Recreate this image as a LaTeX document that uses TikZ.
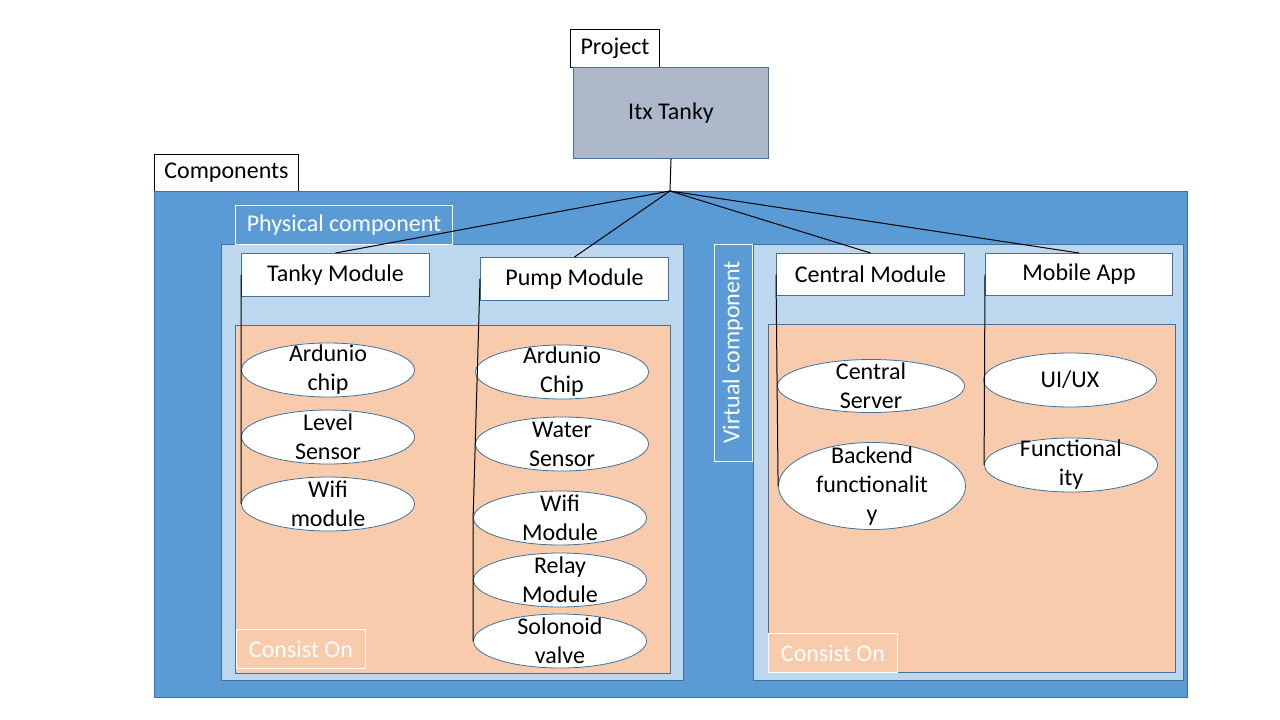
\documentclass[tikz,border=0pt]{standalone}
\usepackage{fontspec}
\setmainfont{Carlito}
\usetikzlibrary{shapes.geometric}

\definecolor{compblue}{HTML}{5B9BD5}
\definecolor{lightblue}{HTML}{BDD7EE}
\definecolor{peach}{HTML}{F8CBAD}
\definecolor{edgeblue}{HTML}{41719C}
\definecolor{projgray}{HTML}{ADB9CA}

\begin{document}
\begin{tikzpicture}[
		x=1pt, y=-1pt,
		font=\fontsize{24}{29}\selectfont,
		areanode/.style={
		% The shape:
		rectangle,
		anchor=north west,
		inner sep=0pt,
		% The border:
		draw=edgeblue,
		line width=1pt
		},
		modulenode/.style={
		% The shape:
		rectangle,
		anchor=north west,
		minimum width=188,
		minimum height=42,
		% The border:
		draw=edgeblue,
		line width=1pt,
		% The filling:
		fill=white
		},
		partnode/.style={
		% The shape:
		ellipse,
		minimum width=173,
		minimum height=54,
		inner sep=0pt,
		% The border:
		draw=edgeblue,
		line width=0.8pt,
		% The filling:
		fill=white
		},
		partlabel/.style={align=center, inner sep=0pt},
		tagnode/.style={
		rectangle, anchor=north west, inner sep=0pt,
		draw=black, line width=1pt, fill=white
		},
		whitetag/.style={
		rectangle, anchor=north west, inner sep=0pt,
		draw=white, line width=1pt, text=white
		},
		wire/.style={draw=black, line width=1pt}
	]
	\useasboundingbox (0,0) rectangle (1280,720);

	% top of the tree
	\node (project)[tagnode, minimum width=89, minimum height=38] at (570,29) {Project};
	\node (itx)[areanode, fill=projgray, minimum width=195, minimum height=91] at (573,67) {Itx Tanky};
	\node (comptag)[tagnode, minimum width=144, minimum height=37] at (154,154) {Components};

	% the areas
	\node (components)[areanode, fill=compblue, minimum width=1033, minimum height=506] at (154,191) {};
	\node (physical)[areanode, fill=lightblue, minimum width=462, minimum height=436] at (221,244) {};
	\node (virtualarea)[areanode, fill=lightblue, minimum width=430, minimum height=436] at (753,244) {};
	\node (consistA)[areanode, fill=peach, minimum width=435, minimum height=348] at (235,325) {};
	\node (consistB)[areanode, fill=peach, minimum width=407, minimum height=348] at (768,324) {};

	\node (phystag)[whitetag, minimum width=217, minimum height=39] at (235,205) {Physical component};
	\node (virttag)[whitetag, rotate=90, anchor=center, minimum width=217, minimum height=38] at (733,352.5) {Virtual component};
	\node (ontagA)[whitetag, minimum width=129, minimum height=39] at (236,629) {Consist On};
	\node (ontagB)[whitetag, minimum width=129, minimum height=39] at (768,633) {Consist On};

	% modules
	\node (tanky)[modulenode, minimum height=43] at (241,253) {Tanky Module};
	\node (pump)[modulenode, minimum height=43] at (480,257) {Pump Module};
	\node (central)[modulenode] at (776,253) {Central Module};
	\node (mobile)[modulenode, minimum width=187] at (985,253) {Mobile App};

	% parts
	\node (chipA)[partnode, label={[partlabel]center:Ardunio\\chip}] at (328,370) {};
	\node (levelA)[partnode, label={[partlabel]center:Level\\Sensor}] at (328,437) {};
	\node (wifiA)[partnode, label={[partlabel]center:Wifi\\module}] at (328,504) {};

	\node (chipB)[partnode, label={[partlabel]center:Ardunio\\Chip}] at (562,372) {};
	\node (waterB)[partnode, label={[partlabel]center:Water\\Sensor}] at (562,444) {};
	\node (wifiB)[partnode, label={[partlabel]center:Wifi\\Module}] at (560,518) {};
	\node (relayB)[partnode, label={[partlabel]center:Relay\\Module}] at (560,580) {};
	\node (valveB)[partnode, label={[partlabel]center:Solonoid\\valve}] at (560,641) {};

	\node (server)[partnode, minimum width=187, minimum height=53, label={[partlabel]center:Central\\Server}] at (871,386) {};
	\node (backend)[partnode, minimum width=187, minimum height=87, label={[partlabel]center:Backend\\functionalit\\y}] at (872,486) {};
	\node (uiux)[partnode, label={[partlabel]center:UI/UX}] at (1070,380) {};
	\node (func)[partnode, label={[partlabel]center:Functional\\ity}] at (1071,465) {};

	% connectors
	\coordinate (J) at (670,191);
	\draw [wire] (itx.south) -- (J);
	\draw [wire] (J) -- (tanky.north);
	\draw [wire] (J) -- (pump.north);
	\draw [wire] (J) -- (central.north);
	\draw [wire] (J) -- (mobile.north);

	\draw [wire] (tanky.west) -- (wifiA.west);
	\draw [wire] (pump.west) -- (wifiB.west) -- (valveB.west);
	\draw [wire] (central.west) -- (backend.west);
	\draw [wire] (mobile.west) -- (func.west);
\end{tikzpicture}
\end{document}
